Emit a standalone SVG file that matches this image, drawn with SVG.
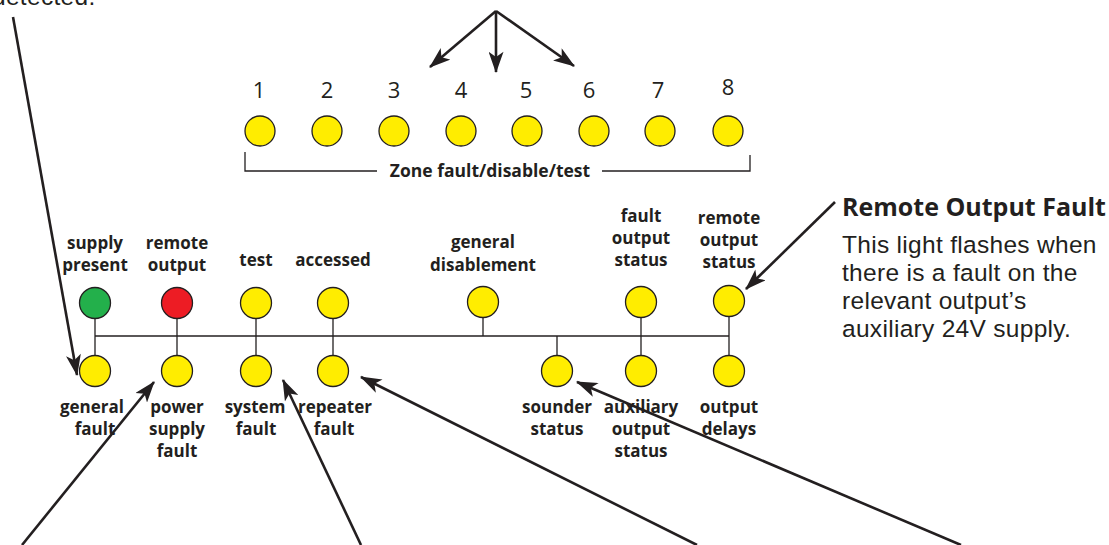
<svg xmlns="http://www.w3.org/2000/svg" width="1109" height="545" viewBox="0 0 1109 545">
<defs>
<style>
.lbl{font-family:"Open Sans","Noto Sans","Liberation Sans",sans-serif;font-weight:bold;font-size:17px;fill:#231f20;text-anchor:middle}
.num{font-family:"Open Sans","Noto Sans","Liberation Sans",sans-serif;font-size:22px;fill:#231f20;text-anchor:middle}
.body{font-family:"Liberation Sans",Arial,sans-serif;font-size:24.5px;letter-spacing:0.3px;fill:#231f20}
.head{font-family:"Open Sans","Noto Sans","Liberation Sans",sans-serif;font-weight:bold;font-size:25px;fill:#231f20}
.led{stroke:#231f20;stroke-width:1.3}
.y{fill:#ffed00}
.g{fill:#23b04b}
.r{fill:#ed1c24}
.wire{stroke:#231f20;stroke-width:1.3;fill:none}
.arr{stroke:#231f20;stroke-width:2.6;fill:none;marker-end:url(#ah)}
</style>
<marker id="ah" viewBox="0 0 20 14" refX="19" refY="7" markerWidth="22" markerHeight="15" markerUnits="userSpaceOnUse" orient="auto">
<path d="M0,0 L20,7 L0,14 L5,7 Z" fill="#231f20"/>
</marker>
</defs>
<rect width="1109" height="545" fill="#ffffff"/>

<text class="body" x="-8" y="5">detected.</text>

<g id="zones">
<g id="zone1"><text class="num" x="259" y="98">1</text><circle class="led y" cx="260" cy="131" r="15"/></g>
<g id="zone2"><text class="num" x="327" y="98">2</text><circle class="led y" cx="327" cy="131" r="15"/></g>
<g id="zone3"><text class="num" x="394" y="98">3</text><circle class="led y" cx="394" cy="131" r="15"/></g>
<g id="zone4"><text class="num" x="461" y="98">4</text><circle class="led y" cx="461" cy="131" r="15"/></g>
<g id="zone5"><text class="num" x="526" y="98">5</text><circle class="led y" cx="527" cy="131" r="15"/></g>
<g id="zone6"><text class="num" x="589" y="98">6</text><circle class="led y" cx="594" cy="131" r="15"/></g>
<g id="zone7"><text class="num" x="658" y="98">7</text><circle class="led y" cx="660" cy="131" r="15"/></g>
<g id="zone8"><text class="num" x="728" y="95">8</text><circle class="led y" cx="728" cy="131" r="15"/></g>
<g id="zone-bracket">
<polyline class="wire" points="245,152 245,171 377,171"/>
<polyline class="wire" points="602,171 750,171 750,155"/>
<text class="lbl" x="490" y="177" style="font-size:17.5px">Zone fault/disable/test</text>
</g>
</g>

<g id="connectors">
<line class="wire" x1="95" y1="336" x2="729" y2="336"/>
<line class="wire" x1="95" y1="319" x2="95" y2="356"/>
<line class="wire" x1="177" y1="319" x2="177" y2="356"/>
<line class="wire" x1="256" y1="319" x2="256" y2="356"/>
<line class="wire" x1="333" y1="319" x2="333" y2="356"/>
<line class="wire" x1="483" y1="318" x2="483" y2="336"/>
<line class="wire" x1="557" y1="336" x2="557" y2="356"/>
<line class="wire" x1="641" y1="318" x2="641" y2="356"/>
<line class="wire" x1="729" y1="317" x2="729" y2="356"/>

<line class="arr" x1="496" y1="11" x2="430" y2="67"/>
<line class="arr" x1="496" y1="11" x2="496" y2="72"/>
<line class="arr" x1="496" y1="11" x2="574" y2="66"/>
<line class="arr" x1="13" y1="17" x2="77" y2="375"/>
<line class="arr" x1="835" y1="202" x2="746" y2="289"/>
<line class="arr" x1="22" y1="545" x2="154" y2="382"/>
<line class="arr" x1="361" y1="545" x2="283" y2="380"/>
<line class="arr" x1="697" y1="545" x2="361" y2="377"/>
<line class="arr" x1="961" y1="545" x2="577" y2="382"/>
</g>

<g id="supply-present"><text class="lbl" x="95" y="249">supply</text><text class="lbl" x="95" y="271">present</text><circle class="led g" cx="95" cy="303" r="15.5"/></g>
<g id="remote-output"><text class="lbl" x="177" y="249">remote</text><text class="lbl" x="177" y="271">output</text><circle class="led r" cx="177" cy="303" r="15.5"/></g>
<g id="test"><text class="lbl" x="256" y="266">test</text><circle class="led y" cx="256" cy="303" r="15.5"/></g>
<g id="accessed"><text class="lbl" x="333" y="266">accessed</text><circle class="led y" cx="333" cy="303" r="15.5"/></g>
<g id="general-disablement"><text class="lbl" x="483" y="248">general</text><text class="lbl" x="483" y="271">disablement</text><circle class="led y" cx="483" cy="302" r="15.5"/></g>
<g id="fault-output-status"><text class="lbl" x="641" y="222">fault</text><text class="lbl" x="641" y="244">output</text><text class="lbl" x="641" y="266">status</text><circle class="led y" cx="641" cy="302" r="15.5"/></g>
<g id="remote-output-status"><text class="lbl" x="729" y="224">remote</text><text class="lbl" x="729" y="246">output</text><text class="lbl" x="729" y="268">status</text><circle class="led y" cx="729" cy="301" r="15.5"/></g>

<g id="general-fault"><circle class="led y" cx="95" cy="371" r="15.5"/><text class="lbl" x="92" y="413">general</text><text class="lbl" x="95" y="435">fault</text></g>
<g id="power-supply-fault"><circle class="led y" cx="177" cy="371" r="15.5"/><text class="lbl" x="177" y="413">power</text><text class="lbl" x="177" y="435">supply</text><text class="lbl" x="177" y="457">fault</text></g>
<g id="system-fault"><circle class="led y" cx="256" cy="371" r="15.5"/><text class="lbl" x="255" y="413">system</text><text class="lbl" x="256" y="435">fault</text></g>
<g id="repeater-fault"><circle class="led y" cx="333" cy="371" r="15.5"/><text class="lbl" x="335" y="413">repeater</text><text class="lbl" x="334" y="435">fault</text></g>
<g id="sounder-status"><circle class="led y" cx="557" cy="371" r="15.5"/><text class="lbl" x="557" y="413">sounder</text><text class="lbl" x="557" y="435">status</text></g>
<g id="auxiliary-output-status"><circle class="led y" cx="641" cy="371" r="15.5"/><text class="lbl" x="641" y="413">auxiliary</text><text class="lbl" x="641" y="435">output</text><text class="lbl" x="641" y="457">status</text></g>
<g id="output-delays"><circle class="led y" cx="729" cy="371" r="15.5"/><text class="lbl" x="729" y="413">output</text><text class="lbl" x="729" y="435">delays</text></g>

<g id="remote-output-fault-note">
<text class="head" x="842" y="216">Remote Output Fault</text>
<text class="body" x="842" y="253">This light flashes when</text>
<text class="body" x="842" y="281">there is a fault on the</text>
<text class="body" x="842" y="309">relevant output’s</text>
<text class="body" x="842" y="337">auxiliary 24V supply.</text>
</g>
</svg>
